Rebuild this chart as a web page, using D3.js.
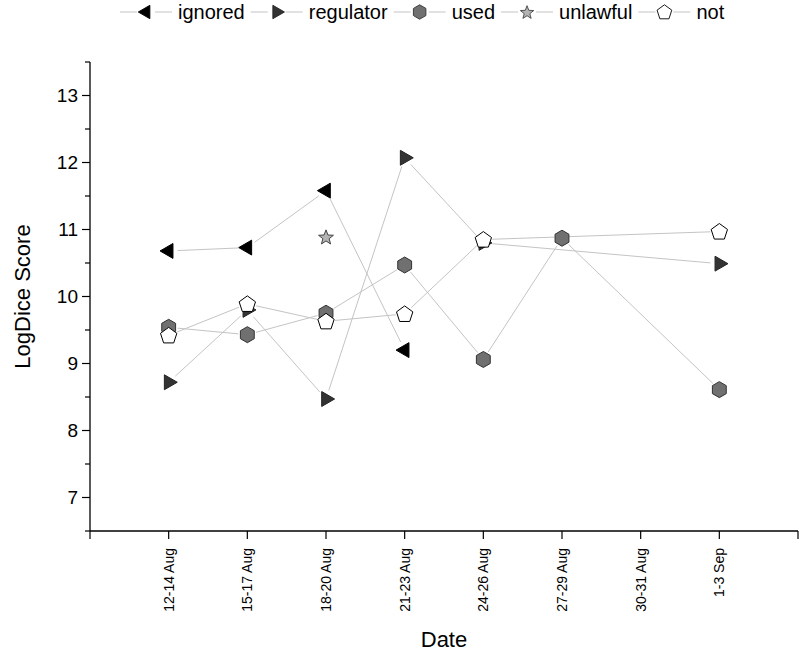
<!DOCTYPE html>
<html>
<head>
<meta charset="utf-8">
<script src="https://cdn.jsdelivr.net/npm/d3@7"></script>
<style>
  html, body { margin: 0; padding: 0; background: #fff; }
  svg { display: block; font-family: "Liberation Sans", Arial, sans-serif; }
</style>
</head>
<body>
<svg id="chart" width="800" height="652"></svg>
<script>
// ---- Data ----
const categories = ["12-14 Aug", "15-17 Aug", "18-20 Aug", "21-23 Aug", "24-26 Aug", "27-29 Aug", "30-31 Aug", "1-3 Sep"];
const seriesNames = ["ignored", "regulator", "used", "unlawful", "not"];
const ignored   = [10.68, 10.73, 11.58, 9.20, null, null, null, null];
const regulator = [8.72, 9.80, 8.47, 12.07, 10.80, null, null, 10.49];
const used      = [9.54, 9.43, 9.75, 10.47, 9.06, 10.87, null, 8.61];
const unlawful  = [null, null, 10.89, null, null, null, null, null];
const notS      = [9.42, 9.89, 9.63, 9.74, 10.85, null, null, 10.97];
const yTicks = [7, 8, 9, 10, 11, 12, 13];

const seriesValues = [ignored, regulator, used, unlawful, notS];
const styles = {
  ignored:   { shape: "triLeft",  fill: "#000000", stroke: "#000000" },
  regulator: { shape: "triRight", fill: "#333333", stroke: "#222222" },
  used:      { shape: "hex",      fill: "#707070", stroke: "#333333" },
  unlawful:  { shape: "star",     fill: "#b4b4b4", stroke: "#444444" },
  not:       { shape: "pent",     fill: "#ffffff", stroke: "#000000" }
};

// ---- Shapes ----
function poly(pts) { return "M" + pts.map(p => p[0].toFixed(2) + "," + p[1].toFixed(2)).join("L") + "Z"; }
function shapePath(shape) {
  const pts = [];
  if (shape === "triLeft" || shape === "triRight") {
    const r = 8.6;
    const base = shape === "triRight" ? 0 : Math.PI;
    for (let i = 0; i < 3; i++) { const a = base + i * 2 * Math.PI / 3; pts.push([r * Math.cos(a), r * Math.sin(a)]); }
  } else if (shape === "hex") {
    const r = 8.0;
    for (let i = 0; i < 6; i++) { const a = -Math.PI / 2 + i * Math.PI / 3; pts.push([r * Math.cos(a), r * Math.sin(a)]); }
  } else if (shape === "pent") {
    const r = 8.6;
    for (let i = 0; i < 5; i++) { const a = -Math.PI / 2 + i * 2 * Math.PI / 5; pts.push([r * Math.cos(a), r * Math.sin(a) + 0.6]); }
  } else if (shape === "star") {
    const R = 7.8, rr = 3.3;
    for (let i = 0; i < 10; i++) { const a = -Math.PI / 2 + i * Math.PI / 5; const q = i % 2 ? rr : R; pts.push([q * Math.cos(a), q * Math.sin(a) + 0.8]); }
  }
  return poly(pts);
}

// ---- Layout ----
const svg = d3.select("#chart");
const x = d3.scaleLinear().domain([-1, 8]).range([90, 798]);
const y = d3.scaleLinear().domain([6.5, 13.5]).range([531, 62]);

// Y axis
const yAxis = svg.append("g").attr("transform", `translate(${x(-1)},0)`);
yAxis.append("line").attr("x1", 0).attr("x2", 0).attr("y1", y(13.5)).attr("y2", y(6.5))
  .attr("stroke", "#000").attr("stroke-width", 1.3);
d3.range(6.5, 13.51, 0.5).forEach(v => {
  const major = Math.abs(v - Math.round(v)) < 1e-6;
  yAxis.append("line").attr("x1", major ? -8 : -5).attr("x2", 0).attr("y1", y(v)).attr("y2", y(v))
    .attr("stroke", "#000").attr("stroke-width", 1.2);
});
yAxis.selectAll("text.tick").data(yTicks).join("text").attr("class", "tick")
  .attr("x", -12).attr("y", d => y(d)).attr("dy", "0.35em")
  .attr("text-anchor", "end").attr("font-size", 19).attr("fill", "#000").text(d => d);

// X axis
const xAxis = svg.append("g").attr("transform", `translate(0,${y(6.5)})`);
xAxis.append("line").attr("x1", x(-1)).attr("x2", x(8)).attr("y1", 0).attr("y2", 0)
  .attr("stroke", "#000").attr("stroke-width", 1.3);
[-1, ...categories.map((c, i) => i), 8].forEach(i => {
  xAxis.append("line").attr("x1", x(i)).attr("x2", x(i)).attr("y1", 0).attr("y2", 8)
    .attr("stroke", "#000").attr("stroke-width", 1.2);
});
xAxis.selectAll("text.tick").data(categories).join("text").attr("class", "tick")
  .attr("transform", (d, i) => `translate(${x(i)},17) rotate(-90)`)
  .attr("dy", "0.35em").attr("text-anchor", "end").attr("font-size", 14).attr("fill", "#000").text(d => d);

// Axis titles
svg.append("text").attr("transform", `translate(30,${(y(6.5) + y(13.5)) / 2}) rotate(-90)`)
  .attr("text-anchor", "middle").attr("font-size", 22).attr("fill", "#000").text("LogDice Score");
svg.append("text").attr("x", (x(-1) + x(8)) / 2).attr("y", 647)
  .attr("text-anchor", "middle").attr("font-size", 22).attr("fill", "#000").text("Date");

// ---- Lines (with small gaps around markers) ----
const lineG = svg.append("g");
const gap = 9;
seriesNames.forEach((name, si) => {
  const pts = seriesValues[si].map((v, i) => v == null ? null : [x(i), y(v)]).filter(p => p);
  for (let k = 0; k < pts.length - 1; k++) {
    const [x1, y1] = pts[k], [x2, y2] = pts[k + 1];
    const len = Math.hypot(x2 - x1, y2 - y1);
    if (len <= 2 * gap) continue;
    const ux = (x2 - x1) / len, uy = (y2 - y1) / len;
    lineG.append("line")
      .attr("x1", x1 + ux * gap).attr("y1", y1 + uy * gap)
      .attr("x2", x2 - ux * gap).attr("y2", y2 - uy * gap)
      .attr("stroke", "#c4c4c4").attr("stroke-width", 1);
  }
});

// ---- Markers ----
const markG = svg.append("g");
seriesNames.forEach((name, si) => {
  const st = styles[name];
  markG.selectAll(null).data(seriesValues[si].map((v, i) => ({ v, i })).filter(d => d.v != null))
    .join("path")
    .attr("d", shapePath(st.shape))
    .attr("transform", d => `translate(${x(d.i)},${y(d.v)})`)
    .attr("fill", st.fill).attr("stroke", st.stroke).attr("stroke-width", 1);
});

// ---- Legend ----
const leg = svg.append("g").attr("transform", "translate(0,12)");
let cx = 120;
seriesNames.forEach(name => {
  const st = styles[name];
  const g = leg.append("g");
  g.append("line").attr("x1", cx).attr("x2", cx + 52).attr("y1", 0).attr("y2", 0)
    .attr("stroke", "#c4c4c4").attr("stroke-width", 1);
  g.append("rect").attr("x", cx + 26 - 9).attr("y", -9).attr("width", 18).attr("height", 18).attr("fill", "#fff");
  g.append("path").attr("d", shapePath(st.shape)).attr("transform", `translate(${cx + 26},0) scale(0.9)`)
    .attr("fill", st.fill).attr("stroke", st.stroke).attr("stroke-width", 1);
  const t = g.append("text").attr("x", cx + 58).attr("y", 0).attr("dy", "0.35em")
    .attr("font-size", 20).attr("fill", "#000").text(name);
  cx = cx + 58 + t.node().getComputedTextLength() + 6;
});
</script>
</body>
</html>
